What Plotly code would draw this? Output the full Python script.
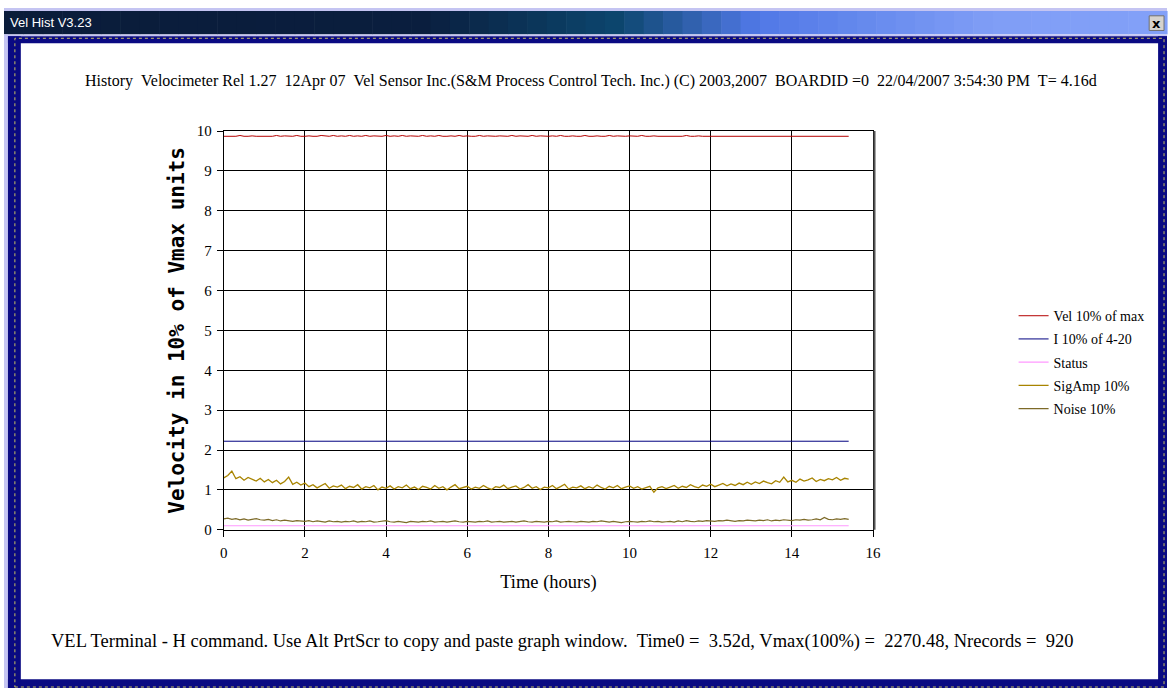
import plotly.graph_objects as go

W, H = 1175, 696

# ---------------- data ----------------
time_h = [
    0.0, 0.1, 0.2, 0.3, 0.4, 0.5, 0.6, 0.7, 0.8, 0.9,
    1.0, 1.1, 1.2, 1.3, 1.4, 1.5, 1.6, 1.7, 1.8, 1.9,
    2.0, 2.1, 2.2, 2.3, 2.4, 2.5, 2.6, 2.7, 2.8, 2.9,
    3.0, 3.1, 3.2, 3.3, 3.4, 3.5, 3.6, 3.7, 3.8, 3.9,
    4.0, 4.1, 4.2, 4.3, 4.4, 4.5, 4.6, 4.7, 4.8, 4.9,
    5.0, 5.1, 5.2, 5.3, 5.4, 5.5, 5.6, 5.7, 5.8, 5.9,
    6.0, 6.1, 6.2, 6.3, 6.4, 6.5, 6.6, 6.7, 6.8, 6.9,
    7.0, 7.1, 7.2, 7.3, 7.4, 7.5, 7.6, 7.7, 7.8, 7.9,
    8.0, 8.1, 8.2, 8.3, 8.4, 8.5, 8.6, 8.7, 8.8, 8.9,
    9.0, 9.1, 9.2, 9.3, 9.4, 9.5, 9.6, 9.7, 9.8, 9.9,
    10.0, 10.1, 10.2, 10.3, 10.4, 10.5, 10.6, 10.7, 10.8, 10.9,
    11.0, 11.1, 11.2, 11.3, 11.4, 11.5, 11.6, 11.7, 11.8, 11.9,
    12.0, 12.1, 12.2, 12.3, 12.4, 12.5, 12.6, 12.7, 12.8, 12.9,
    13.0, 13.1, 13.2, 13.3, 13.4, 13.5, 13.6, 13.7, 13.8, 13.9,
    14.0, 14.1, 14.2, 14.3, 14.4, 14.5, 14.6, 14.7, 14.8, 14.9,
    15.0, 15.1, 15.2, 15.3, 15.4,
]

vel_10pct = [
    9.87, 9.87, 9.88, 9.87, 9.89, 9.87, 9.87, 9.88, 9.87, 9.87,
    9.88, 9.87, 9.87, 9.89, 9.87, 9.88, 9.87, 9.87, 9.89, 9.87,
    9.87, 9.88, 9.87, 9.87, 9.89, 9.88, 9.87, 9.89, 9.87, 9.88,
    9.87, 9.89, 9.87, 9.88, 9.87, 9.89, 9.87, 9.88, 9.88, 9.87,
    9.89, 9.87, 9.88, 9.87, 9.89, 9.87, 9.88, 9.87, 9.87, 9.89,
    9.87, 9.88, 9.87, 9.89, 9.87, 9.87, 9.88, 9.87, 9.89, 9.87,
    9.88, 9.87, 9.87, 9.89, 9.87, 9.88, 9.87, 9.87, 9.88, 9.87,
    9.87, 9.89, 9.87, 9.88, 9.87, 9.87, 9.89, 9.87, 9.88, 9.87,
    9.87, 9.88, 9.87, 9.89, 9.87, 9.87, 9.88, 9.87, 9.87, 9.89,
    9.87, 9.87, 9.88, 9.87, 9.87, 9.89, 9.87, 9.88, 9.87, 9.87,
    9.88, 9.87, 9.87, 9.89, 9.87, 9.87, 9.88, 9.87, 9.87, 9.88,
    9.87, 9.88, 9.87, 9.87, 9.89, 9.87, 9.87, 9.88, 9.87, 9.87,
    9.87, 9.88, 9.87, 9.87, 9.87, 9.88, 9.87, 9.87, 9.88, 9.87,
    9.87, 9.87, 9.88, 9.87, 9.87, 9.87, 9.88, 9.87, 9.87, 9.87,
    9.88, 9.87, 9.87, 9.87, 9.88, 9.87, 9.87, 9.87, 9.87, 9.88,
    9.87, 9.87, 9.87, 9.87, 9.87,
]

sigamp_10pct = [
    1.30, 1.36, 1.47, 1.28, 1.33, 1.24, 1.31, 1.27, 1.22, 1.29,
    1.20, 1.26, 1.18, 1.24, 1.15, 1.21, 1.32, 1.14, 1.19, 1.12,
    1.17, 1.08, 1.13, 1.05, 1.11, 1.16, 1.04, 1.10, 1.07, 1.12,
    1.03, 1.09, 1.06, 1.13, 1.02, 1.08, 1.05, 1.11, 1.00, 1.07,
    1.04, 1.10, 1.02, 1.08, 1.05, 1.12, 1.03, 1.07, 1.01, 1.09,
    1.06, 1.02, 1.11, 1.04, 1.08, 1.00, 1.07, 1.13, 1.03, 1.06,
    1.09, 1.02, 1.07, 1.04, 1.11, 1.05, 1.01, 1.08, 1.06, 1.12,
    1.03, 1.07, 1.10, 1.02, 1.06, 1.13, 1.04, 1.08, 1.01, 1.07,
    1.05, 1.11, 1.03, 1.08, 1.14, 1.02, 1.07, 1.05, 1.10, 1.03,
    1.08, 1.04, 1.12, 1.06, 1.02, 1.09, 1.05, 1.11, 1.03, 1.07,
    1.10, 1.04, 1.08, 1.02, 1.06, 1.09, 0.94, 1.05, 1.08, 1.03,
    1.07, 1.11, 1.04, 1.09, 1.06, 1.13, 1.08, 1.05, 1.12, 1.09,
    1.14, 1.08, 1.12, 1.16, 1.10, 1.15, 1.11, 1.17, 1.13, 1.19,
    1.14, 1.20, 1.16, 1.22, 1.18, 1.15, 1.23, 1.19, 1.32, 1.20,
    1.24, 1.19, 1.27, 1.22, 1.25, 1.30, 1.21, 1.26, 1.23, 1.28,
    1.25, 1.31, 1.24, 1.29, 1.27,
]

noise_10pct = [
    0.27, 0.29, 0.26, 0.28, 0.25, 0.27, 0.24, 0.26, 0.28, 0.25,
    0.24, 0.26, 0.23, 0.25, 0.22, 0.24, 0.23, 0.21, 0.23, 0.22,
    0.21, 0.23, 0.20, 0.22, 0.21, 0.19, 0.22, 0.20, 0.21, 0.19,
    0.21, 0.20, 0.22, 0.19, 0.21, 0.20, 0.22, 0.19, 0.20, 0.21,
    0.23, 0.20, 0.19, 0.21, 0.20, 0.18, 0.21, 0.20, 0.19, 0.21,
    0.20, 0.22, 0.19, 0.20, 0.21, 0.19, 0.20, 0.22, 0.20, 0.19,
    0.21, 0.20, 0.19, 0.21, 0.20, 0.22, 0.19, 0.20, 0.21, 0.19,
    0.20, 0.21, 0.19, 0.20, 0.22, 0.20, 0.19, 0.21, 0.20, 0.19,
    0.21, 0.20, 0.22, 0.19, 0.20, 0.21, 0.20, 0.19, 0.21, 0.20,
    0.19, 0.21, 0.20, 0.22, 0.20, 0.19, 0.21, 0.20, 0.18, 0.20,
    0.21, 0.20, 0.19, 0.21, 0.20, 0.22, 0.20, 0.21, 0.19, 0.20,
    0.21, 0.19, 0.22, 0.20, 0.23, 0.21, 0.20, 0.22, 0.21, 0.23,
    0.22, 0.21, 0.23, 0.22, 0.24, 0.22, 0.21, 0.23, 0.22, 0.24,
    0.23, 0.22, 0.24, 0.23, 0.25, 0.22, 0.24, 0.23, 0.25, 0.24,
    0.23, 0.25, 0.24, 0.26, 0.24, 0.25, 0.27, 0.25, 0.31, 0.26,
    0.25, 0.27, 0.26, 0.28, 0.26,
]

flat_time_h = [0.0, 15.4]
current_10pct = [2.22, 2.22]
status_10pct = [0.10, 0.10]

x_ticks = [0, 2, 4, 6, 8, 10, 12, 14, 16]
y_ticks = [0, 1, 2, 3, 4, 5, 6, 7, 8, 9, 10]

series_names = ["Vel 10% of max", "I 10% of 4-20", "Status", "SigAmp 10%", "Noise 10%"]

header_text = ("History\u00a0\u00a0Velocimeter Rel 1.27\u00a0\u00a012Apr 07\u00a0\u00a0Vel Sensor Inc.(S&M Process "
               "Control Tech. Inc.) (C) 2003,2007\u00a0\u00a0BOARDID =0\u00a0\u00a022/04/2007 3:54:30 PM\u00a0\u00a0T= 4.16d")
footer_text = ("VEL Terminal - H command. Use Alt PrtScr to copy and paste graph window.\u00a0\u00a0Time0 =\u00a0\u00a03.52d, "
               "Vmax(100%) =\u00a0\u00a02270.48, Nrecords =\u00a0\u00a0920")
window_title = "Vel Hist V3.23"

# ---------------- helpers ----------------
def px(x):
    return x / W


def py(y):
    return 1 - y / H


SERIF = "Liberation Serif, Times New Roman, serif"
colors = ["#b40000", "#000080", "#ff99ff", "#a88400", "#7d6a28"]
widths = [1, 1, 1.2, 1.3, 1.2]

fig = go.Figure()
data_sets = [
    (time_h, vel_10pct),
    (flat_time_h, current_10pct),
    (flat_time_h, status_10pct),
    (time_h, sigamp_10pct),
    (time_h, noise_10pct),
]
for i, ((xs, ys), name) in enumerate(zip(data_sets, series_names)):
    fig.add_trace(go.Scatter(
        x=xs, y=ys, mode="lines", name=name,
        line=dict(color=colors[i], width=widths[i]),
        legendgroup=f"g{i}", hoverinfo="skip",
    ))

axis_common = dict(
    showgrid=True, gridcolor="black", gridwidth=1,
    zeroline=False, showline=True, linecolor="black", linewidth=1, mirror=True,
    ticks="outside", ticklen=6, tickcolor="black", tickwidth=1,
    tickfont=dict(family=SERIF, size=15, color="black"),
    fixedrange=True,
)

fig.update_layout(
    width=W, height=H, autosize=False,
    margin=dict(l=0, r=0, t=0, b=0),
    paper_bgcolor="white", plot_bgcolor="white",
    xaxis=dict(domain=[px(222), px(878)], range=[0, 16], tickvals=x_ticks, ticklabelstandoff=3,
               title=dict(text="Time (hours)", font=dict(family=SERIF, size=18.5, color="black"), standoff=15),
               **axis_common),
    yaxis=dict(domain=[py(534), py(126)], range=[0, 10], tickvals=y_ticks, ticklabelstandoff=2,
               title=dict(text="<b>Velocity in 10% of Vmax units</b>",
                          font=dict(family="DejaVu Sans Mono, monospace", size=21, color="black"), standoff=6),
               **axis_common),
    legend=dict(x=px(1020), y=py(299), xanchor="left", yanchor="top",
                font=dict(family=SERIF, size=14, color="black"),
                bgcolor="rgba(0,0,0,0)", borderwidth=0,
                traceorder="grouped", tracegroupgap=2),
    showlegend=True,
)

shapes = []
# title bar gradient
def lerp(c1, c2, t):
    return tuple(int(round(a + (b - a) * t)) for a, b in zip(c1, c2))

stops = [(0, (10, 28, 58)), (420, (10, 30, 62)), (620, (12, 70, 110)), (760, (80, 120, 230)),
         (1000, (128, 158, 246)), (1175, (130, 160, 248))]
n = 60
for k in range(n):
    x0 = W * k / n
    x1 = W * (k + 1) / n
    xm = (x0 + x1) / 2
    for (a, ca), (b, cb) in zip(stops[:-1], stops[1:]):
        if a <= xm <= b:
            c = lerp(ca, cb, (xm - a) / (b - a))
            break
    shapes.append(dict(type="rect", xref="paper", yref="paper", x0=px(x0), x1=px(x1) + 0.0005,
                       y0=py(27), y1=py(3), fillcolor="rgb(%d,%d,%d)" % c, line=dict(width=0), layer="above"))
# lavender strips
shapes.append(dict(type="rect", xref="paper", yref="paper", x0=0, x1=1, y0=py(3), y1=1,
                   fillcolor="#c4c4f2", line=dict(width=0), layer="above"))
shapes.append(dict(type="rect", xref="paper", yref="paper", x0=0, x1=1, y0=py(29), y1=py(27),
                   fillcolor="#c4c4f2", line=dict(width=0), layer="above"))
shapes.append(dict(type="rect", xref="paper", yref="paper", x0=0, x1=px(4), y0=0, y1=py(27),
                   fillcolor="#c4c4f2", line=dict(width=0), layer="above"))
# navy frame
navy = "#0a0a82"
shapes += [
    dict(type="rect", xref="paper", yref="paper", x0=px(4), x1=1, y0=py(36), y1=py(29), fillcolor=navy, line=dict(width=0), layer="above"),
    dict(type="rect", xref="paper", yref="paper", x0=px(4), x1=1, y0=0, y1=py(687), fillcolor=navy, line=dict(width=0), layer="above"),
    dict(type="rect", xref="paper", yref="paper", x0=px(4), x1=px(17), y0=0, y1=py(29), fillcolor=navy, line=dict(width=0), layer="above"),
    dict(type="rect", xref="paper", yref="paper", x0=px(1166), x1=1, y0=0, y1=py(29), fillcolor=navy, line=dict(width=0), layer="above"),
    dict(type="rect", xref="paper", yref="paper", x0=px(11), x1=px(1172), y0=py(695), y1=py(31),
         fillcolor="rgba(0,0,0,0)", line=dict(color="#c8c060", width=1, dash="dot"), layer="above"),
    # close button
    dict(type="rect", xref="paper", yref="paper", x0=px(1157), x1=px(1172), y0=py(23), y1=py(8),
         fillcolor="#d6d3ce", line=dict(color="#707070", width=1), layer="above"),
    # slight grey shadow on right plot edge
    dict(type="line", xref="paper", yref="paper", x0=px(879.5), x1=px(879.5), y0=py(534), y1=py(126),
         line=dict(color="#555555", width=2), layer="above"),
]
fig.update_layout(shapes=shapes)

annotations = [
    dict(text=window_title, x=px(4), y=py(15), xref="paper", yref="paper", xanchor="left", yanchor="middle",
         showarrow=False, font=dict(family="Liberation Sans, Arial, sans-serif", size=13, color="white")),
    dict(text="<b>x</b>", x=px(1164.5), y=py(15.5), xref="paper", yref="paper", xanchor="center", yanchor="middle",
         showarrow=False, font=dict(family="DejaVu Sans, sans-serif", size=13, color="black")),
    dict(text=header_text, x=px(593), y=py(75), xref="paper", yref="paper", xanchor="center", yanchor="middle",
         showarrow=False, font=dict(family=SERIF, size=16, color="black")),
    dict(text=footer_text, x=px(564), y=py(648), xref="paper", yref="paper", xanchor="center", yanchor="middle",
         showarrow=False, font=dict(family=SERIF, size=18.5, color="black")),
]
fig.update_layout(annotations=annotations)

post = (
    "var d=document.getElementById('{plot_id}');"
    "var h=document.documentElement, b=document.body;"
    "h.style.margin='0';h.style.padding='0';h.style.overflow='hidden';"
    "b.style.margin='0';b.style.padding='0';b.style.overflow='hidden';"
    "d.style.position='fixed';d.style.left='0px';d.style.top='0px';"
)

fig.write_html("out.html", config={"displayModeBar": False}, post_script=post)
